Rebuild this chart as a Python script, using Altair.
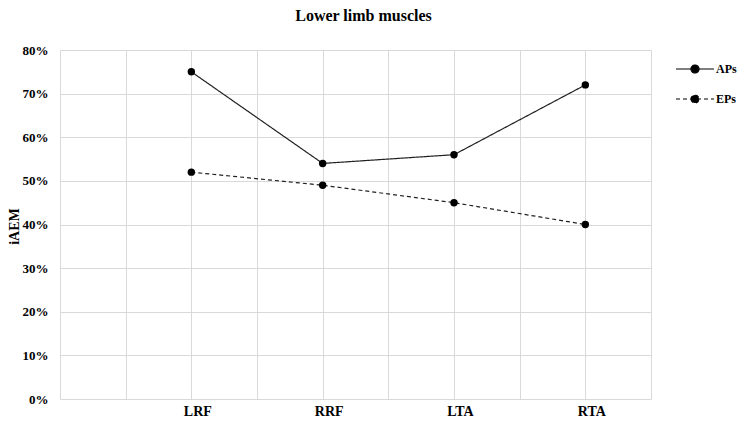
import altair as alt
import pandas as pd

categories = ["LRF", "RRF", "LTA", "RTA"]
positions = [1, 2, 3, 4]
aps = [0.75, 0.54, 0.56, 0.72]
eps = [0.52, 0.49, 0.45, 0.40]

rows = []
for c, p, a in zip(categories, positions, aps):
    rows.append({"muscle": c, "pos": p, "value": a, "series": "APs"})
for c, p, e in zip(categories, positions, eps):
    rows.append({"muscle": c, "pos": p, "value": e, "series": "EPs"})
df = pd.DataFrame(rows)

font = "Liberation Serif, Times New Roman, serif"
label_map = "{'1':'LRF','2':'RRF','3':'LTA','4':'RTA'}"

x = alt.X("pos:Q",
          scale=alt.Scale(domain=[0, 4.5], nice=False, zero=False),
          axis=alt.Axis(values=[0, 0.5, 1, 1.5, 2, 2.5, 3, 3.5, 4, 4.5],
                        labelExpr=f"indexof([1,2,3,4], datum.value) >= 0 ? {label_map}[''+datum.value] : ''",
                        title=None, ticks=False, domain=False, grid=True,
                        labelFont=font, labelFontWeight="bold", labelFontSize=14,
                        labelColor="#000", labelPadding=5, labelOffset=6))
y = alt.Y("value:Q",
          scale=alt.Scale(domain=[0, 0.8], nice=False),
          axis=alt.Axis(values=[0, 0.1, 0.2, 0.3, 0.4, 0.5, 0.6, 0.7, 0.8], format=".0%",
                        title="iAEM", titleFont=font, titleFontWeight="bold",
                        titleFontSize=14, titleColor="#000",
                        titleX=-46, titleY=176, titleAngle=270,
                        titleAlign="center", titleBaseline="middle",
                        ticks=False, domain=False, grid=True,
                        labelFont=font, labelFontWeight="bold", labelFontSize=13,
                        labelColor="#000", labelPadding=12))

sym = "M-1.9,0H1.9M-0.4,0a0.4,0.4 0 1,0 0.8,0a0.4,0.4 0 1,0 -0.8,0"

line = alt.Chart(df).mark_line(color="#222", strokeWidth=1.2).encode(
    x=x, y=y,
    strokeDash=alt.StrokeDash("series:N",
        scale=alt.Scale(domain=["APs", "EPs"], range=[[1, 0], [4, 3]]),
        legend=alt.Legend(title=None, orient="none", legendX=624, legendY=8,
                          symbolType=sym, symbolSize=400, symbolStrokeWidth=1.2,
                          symbolStrokeColor="#000", symbolFillColor="#000",
                          labelFont=font, labelFontWeight="bold", labelFontSize=12,
                          labelColor="#000", rowPadding=12, labelOffset=10)),
    detail="series:N",
)
pts = alt.Chart(df).mark_point(filled=True, color="#000", size=55, opacity=1).encode(
    x=x, y=y, detail="series:N")

chart = (line + pts).properties(
    width=591, height=349,
    title=alt.TitleParams("Lower limb muscles", font=font, fontWeight="bold",
                          fontSize=16, color="#000", offset=20, dx=8),
    autosize=alt.AutoSizeParams(type="none"),
    padding={"left": 52, "top": 42, "right": 86, "bottom": 20},
).configure_view(stroke=None).configure_axis(gridColor="#d9d9d9", gridWidth=1)

chart.save("out.html", embed_options={"renderer": "svg", "actions": False})
